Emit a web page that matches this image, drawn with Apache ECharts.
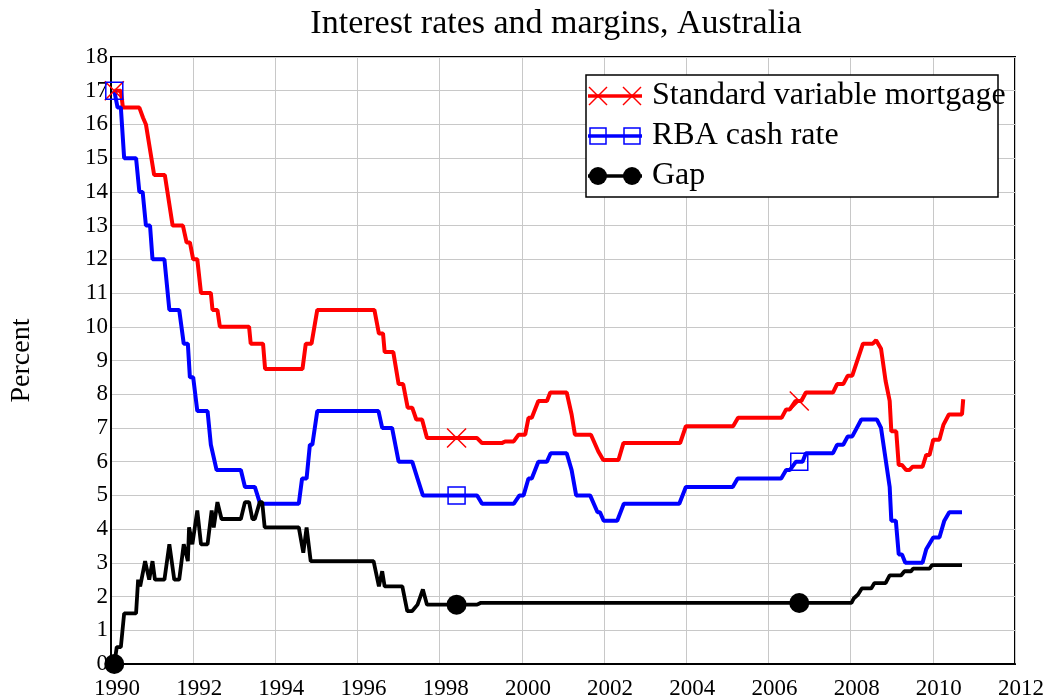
<!DOCTYPE html>
<html>
<head>
<meta charset="utf-8">
<script src="https://cdn.jsdelivr.net/npm/echarts@6/dist/echarts.min.js"></script>
<style>
  html, body { margin: 0; padding: 0; background: #fff; }
  #main { width: 1047px; height: 700px; }
</style>
</head>
<body>
<div id="main"></div>
<script>
// [year, percent], corners of the step lines
var mortgage = [
  [1990.08,17.0],[1990.24,17.0],[1990.29,16.5],[1990.69,16.5],[1990.78,16.2],[1990.85,16.0],
  [1991.05,14.5],[1991.31,14.5],[1991.50,13.0],[1991.75,13.0],[1991.84,12.5],[1991.92,12.5],
  [1992.00,12.0],[1992.10,12.0],[1992.19,11.0],[1992.43,11.0],[1992.47,10.5],[1992.59,10.5],
  [1992.65,10.0],[1993.36,10.0],[1993.40,9.5],[1993.70,9.5],[1993.75,8.75],[1994.66,8.75],
  [1994.74,9.5],[1994.88,9.5],[1995.02,10.5],[1996.41,10.5],[1996.52,9.8],[1996.62,9.8],
  [1996.66,9.25],[1996.87,9.25],[1997.00,8.3],[1997.11,8.3],[1997.22,7.6],[1997.33,7.6],
  [1997.43,7.25],[1997.57,7.25],[1997.69,6.7],[1998.41,6.7],[1998.91,6.7],[1999.03,6.55],
  [1999.51,6.55],[1999.59,6.6],[1999.80,6.6],[1999.92,6.8],[2000.08,6.8],[2000.16,7.3],
  [2000.24,7.3],[2000.40,7.8],[2000.61,7.8],[2000.69,8.05],[2001.09,8.05],[2001.21,7.4],
  [2001.25,7.4],[2001.29,6.8],[2001.68,6.8],[2001.86,6.3],[2001.90,6.3],[2001.98,6.05],
  [2002.35,6.05],[2002.47,6.55],[2003.85,6.55],[2003.99,7.05],[2005.14,7.05],[2005.26,7.3],
  [2006.32,7.3],[2006.43,7.55],[2006.52,7.55],[2006.66,7.8],[2006.75,7.8],[2006.80,7.8],
  [2006.91,8.05],[2007.57,8.05],[2007.67,8.3],[2007.82,8.3],[2007.93,8.55],[2008.04,8.55],
  [2008.30,9.5],[2008.54,9.5],[2008.62,9.6],[2008.74,9.35],[2008.85,8.4],[2008.95,7.8],
  [2008.99,6.9],[2009.11,6.9],[2009.17,5.9],[2009.25,5.9],[2009.35,5.75],[2009.43,5.75],
  [2009.51,5.85],[2009.75,5.85],[2009.84,6.2],[2009.92,6.2],[2010.01,6.65],[2010.16,6.65],
  [2010.26,7.1],[2010.39,7.4],[2010.71,7.4],[2010.74,7.85]
];
var cashRate = [
  [1990.08,17.0],[1990.12,17.0],[1990.16,16.5],[1990.24,16.5],[1990.32,15.0],[1990.61,15.0],
  [1990.69,14.0],[1990.77,14.0],[1990.85,13.0],[1990.95,13.0],[1991.01,12.0],[1991.30,12.0],
  [1991.42,10.5],[1991.66,10.5],[1991.77,9.5],[1991.87,9.5],[1991.92,8.5],[1992.00,8.5],
  [1992.10,7.5],[1992.35,7.5],[1992.43,6.5],[1992.47,6.5],[1992.57,5.75],[1993.16,5.75],
  [1993.26,5.25],[1993.50,5.25],[1993.63,4.75],[1994.57,4.75],[1994.65,5.5],[1994.76,5.5],
  [1994.84,6.5],[1994.90,6.5],[1995.02,7.5],[1996.51,7.5],[1996.60,7.0],[1996.84,7.0],
  [1997.00,6.0],[1997.33,6.0],[1997.46,5.5],[1997.59,5.0],[1998.41,5.0],[1998.91,5.0],
  [1999.03,4.75],[1999.80,4.75],[1999.94,5.0],[2000.04,5.0],[2000.16,5.5],[2000.24,5.5],
  [2000.40,6.0],[2000.61,6.0],[2000.70,6.25],[2001.09,6.25],[2001.21,5.75],[2001.32,5.0],
  [2001.66,5.0],[2001.84,4.5],[2001.90,4.5],[2001.99,4.25],[2002.32,4.25],[2002.48,4.75],
  [2003.83,4.75],[2003.99,5.25],[2005.13,5.25],[2005.25,5.5],[2006.31,5.5],[2006.43,5.75],
  [2006.52,5.75],[2006.67,6.0],[2006.75,6.0],[2006.83,6.0],[2006.91,6.25],[2007.57,6.25],
  [2007.67,6.5],[2007.82,6.5],[2007.93,6.75],[2008.04,6.75],[2008.26,7.25],[2008.64,7.25],
  [2008.74,7.0],[2008.95,5.25],[2008.99,4.25],[2009.10,4.25],[2009.17,3.25],[2009.25,3.25],
  [2009.33,3.0],[2009.75,3.0],[2009.84,3.4],[2010.01,3.75],[2010.16,3.75],[2010.28,4.25],
  [2010.40,4.5],[2010.71,4.5]
];
var gap = [
  [1990.08,0],[1990.14,0.5],[1990.24,0.5],[1990.32,1.5],[1990.61,1.5],[1990.66,2.5],
  [1990.71,2.3],[1990.83,3.05],[1990.93,2.5],[1991.01,3.05],[1991.07,2.5],[1991.30,2.5],
  [1991.42,3.55],[1991.54,2.5],[1991.66,2.5],[1991.77,3.55],[1991.87,3.05],[1991.90,4.05],
  [1991.98,3.55],[1992.10,4.55],[1992.19,3.55],[1992.35,3.55],[1992.45,4.55],[1992.50,4.05],
  [1992.59,4.8],[1992.69,4.3],[1993.16,4.3],[1993.26,4.8],[1993.36,4.8],[1993.44,4.3],
  [1993.50,4.3],[1993.62,4.8],[1993.68,4.8],[1993.74,4.05],[1994.57,4.05],[1994.68,3.3],
  [1994.76,4.05],[1994.86,3.05],[1996.39,3.05],[1996.52,2.3],[1996.60,2.75],[1996.66,2.3],
  [1997.09,2.3],[1997.21,1.57],[1997.33,1.57],[1997.46,1.76],[1997.59,2.21],[1997.69,1.76],
  [1998.41,1.76],[1998.91,1.76],[1998.99,1.81],[2006.75,1.81],[2008.02,1.81],[2008.08,1.95],
  [2008.18,2.06],[2008.27,2.24],[2008.50,2.24],[2008.58,2.4],[2008.85,2.4],[2008.95,2.63],
  [2009.23,2.63],[2009.31,2.75],[2009.47,2.75],[2009.52,2.83],[2009.92,2.83],[2009.98,2.93],
  [2010.71,2.93]
];
// years where the markers sit (every 100 months)
var markerYears = [1990.08, 1998.41, 2006.75];
var seriesNames = ['Standard variable mortgage', 'RBA cash rate', 'Gap'];

var serif = '"Liberation Serif", "DejaVu Serif", serif';
var crossPath = 'path://M0,0L10,10M10,0L0,10';

function markerSize(size) {
  return function (val) {
    return markerYears.indexOf(val[0]) >= 0 ? size : 0;
  };
}

// hand drawn legend so the icon has a marker at each end like the original
function legendRow(y, color, kind, label) {
  var els = [{
    type: 'line', z: 101, shape: { x1: 588, y1: y, x2: 642, y2: y },
    style: { stroke: color, lineWidth: 3.5 }
  }];
  [598, 632].forEach(function (cx) {
    if (kind === 'cross') {
      els.push({ type: 'line', z: 102, shape: { x1: cx - 9, y1: y - 9, x2: cx + 9, y2: y + 9 }, style: { stroke: color, lineWidth: 1.5 } });
      els.push({ type: 'line', z: 102, shape: { x1: cx - 9, y1: y + 9, x2: cx + 9, y2: y - 9 }, style: { stroke: color, lineWidth: 1.5 } });
    } else if (kind === 'rect') {
      els.push({ type: 'rect', z: 102, shape: { x: cx - 8, y: y - 8, width: 16, height: 16 }, style: { fill: 'none', stroke: color, lineWidth: 1.5 } });
    } else {
      els.push({ type: 'circle', z: 102, shape: { cx: cx, cy: y, r: 9 }, style: { fill: color } });
    }
  });
  els.push({
    type: 'text', z: 102,
    style: { x: 652, y: y, text: label, fill: '#000', font: '32px ' + serif, verticalAlign: 'middle' }
  });
  return els;
}

var chart = echarts.init(document.getElementById('main'));
var legendEls = [{
  type: 'rect', z: 100, shape: { x: 586, y: 75, width: 412, height: 122 },
  style: { fill: '#fff', stroke: '#000', lineWidth: 1.5 }
}].concat(
  legendRow(96, '#ff0000', 'cross', seriesNames[0]),
  legendRow(136, '#0000ff', 'rect', seriesNames[1]),
  legendRow(176, '#000000', 'circle', seriesNames[2])
);

var option = {
  backgroundColor: '#fff',
  animation: false,
  title: {
    text: 'Interest rates and margins, Australia',
    left: 551, top: 2, textAlign: 'center',
    textStyle: { fontFamily: serif, fontSize: 34, fontWeight: 'normal', color: '#000' }
  },
  grid: {
    left: 110, right: 31, top: 57, bottom: 35,
    show: true, borderColor: '#000', borderWidth: 2, backgroundColor: 'transparent'
  },
  xAxis: {
    type: 'value', min: 1990, max: 2012, interval: 2,
    axisLine: { lineStyle: { color: '#000', width: 2 } },
    axisTick: { show: false },
    splitLine: { lineStyle: { color: '#c8c8c8', width: 1 } },
    axisLabel: {
      color: '#000', fontFamily: serif, fontSize: 23, margin: 13,
      padding: [0, 0, 0, 12], formatter: function (v) { return String(v); }
    }
  },
  yAxis: {
    type: 'value', min: 0, max: 18, interval: 1,
    name: 'Percent', nameLocation: 'middle', nameGap: 75, nameRotate: 90,
    nameTextStyle: { color: '#000', fontFamily: serif, fontSize: 28 },
    axisLine: { lineStyle: { color: '#000', width: 2 } },
    axisTick: { show: false },
    splitLine: { lineStyle: { color: '#c8c8c8', width: 1 } },
    axisLabel: { color: '#000', fontFamily: serif, fontSize: 23, margin: 3, padding: [10, 0, 0, 0] }
  },
  graphic: { elements: legendEls },
  series: [
    {
      name: seriesNames[0], type: 'line', data: mortgage,
      symbol: crossPath, symbolSize: markerSize(19),
      lineStyle: { color: '#ff0000', width: 4 },
      itemStyle: { color: 'none', borderColor: '#ff0000', borderWidth: 1.5 },
      emphasis: { disabled: true }, silent: true
    },
    {
      name: seriesNames[1], type: 'line', data: cashRate,
      symbol: 'rect', symbolSize: markerSize(17),
      lineStyle: { color: '#0000ff', width: 4 },
      itemStyle: { color: 'none', borderColor: '#0000ff', borderWidth: 1.5 },
      emphasis: { disabled: true }, silent: true
    },
    {
      name: seriesNames[2], type: 'line', data: gap,
      symbol: 'circle', symbolSize: markerSize(20),
      lineStyle: { color: '#000000', width: 3.8 },
      itemStyle: { color: '#000000', borderWidth: 0 },
      emphasis: { disabled: true }, silent: true
    }
  ]
};
chart.setOption(option);
</script>
</body>
</html>
